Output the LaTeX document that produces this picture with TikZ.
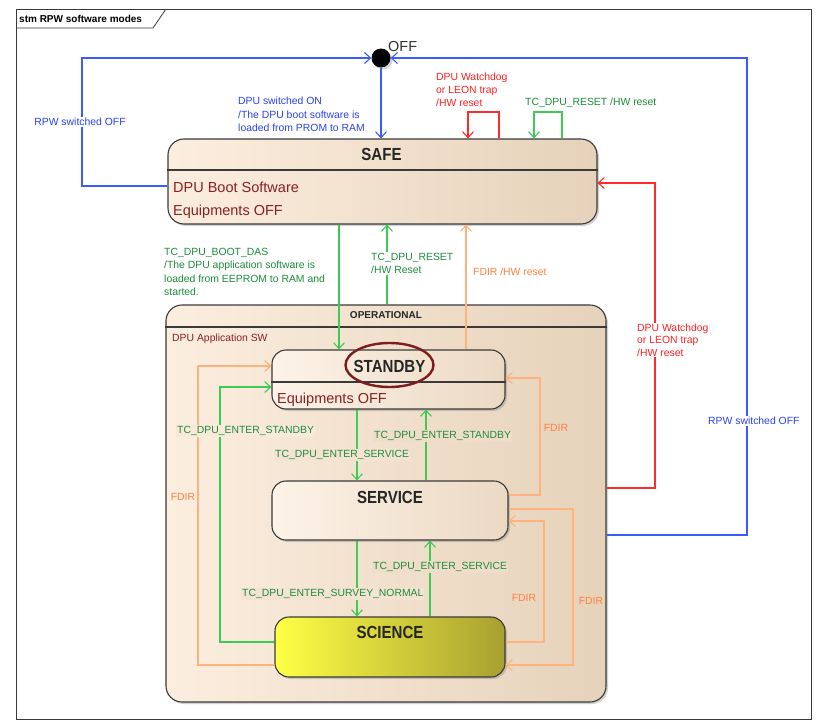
\documentclass[tikz,border=0pt]{standalone}
\usepackage{fontspec}
\setmainfont{Liberation Sans}
\newfontfamily\titlefont[FakeStretch=0.86]{Liberation Sans}
\usetikzlibrary{arrows.meta,shadows,shapes.geometric}

\definecolor{bl}{HTML}{3B5BFF}
\definecolor{bltxt}{HTML}{2A42F2}
\definecolor{gr}{HTML}{3CCB55}
\definecolor{grtxt}{HTML}{1C8C3C}
\definecolor{rd}{HTML}{FF2A2A}
\definecolor{rdtxt}{HTML}{FF2020}
\definecolor{orl}{HTML}{FFB27D}
\definecolor{ortxt}{HTML}{FF8040}
\definecolor{maroon}{HTML}{8B2020}
\definecolor{boxL}{HTML}{FCEEDF}
\definecolor{boxR}{HTML}{E6D2BA}
\definecolor{stL}{HTML}{FDF3E8}
\definecolor{stR}{HTML}{EBD9C3}
\definecolor{yelL}{HTML}{FFFF45}
\definecolor{yelM}{HTML}{F7F03A}
\definecolor{yelR}{HTML}{A8A030}
\definecolor{edge}{HTML}{3A3A3A}

\begin{document}
\begin{tikzpicture}[x=1pt,y=-1pt,
  every node/.style={inner sep=1pt},
  lbl/.style={font=\fontsize{10.4}{13.5}\selectfont, align=left},
  shd/.style={drop shadow={shadow xshift=2pt,shadow yshift=-2pt,opacity=0.35}},
  bigbox/.style={draw=edge, line width=1.1pt, rounded corners=16pt, left color=boxL, right color=boxR, shd},
  statebox/.style={draw=edge, line width=1.1pt, rounded corners=14pt, left color=stL, right color=stR, shd},
  scibox/.style={draw=edge, line width=1.1pt, rounded corners=14pt, left color=yelL, middle color=yelM, right color=yelR, shd},
  tr/.style={line width=1.1pt, -{Straight Barb[length=6pt,width=11pt]}},
  ln/.style={line width=1.1pt},
  ttl/.style={font=\titlefont\bfseries\fontsize{17.5}{20}\selectfont, text=black!85},
  big/.style={font=\fontsize{14.5}{17}\selectfont, text=maroon}
]
\useasboundingbox (0,0) rectangle (817,728);
\fill[white] (0,0) rectangle (817,728);

% frame
\draw[edge, line width=1pt] (16,9) rectangle (811,719);
\draw[edge, line width=0.8pt] (16,28) -- (153,28) -- (166,9);
\node[anchor=west, font=\bfseries\fontsize{10}{12}\selectfont] (frametitle) at (18,19) {stm RPW software modes};

% boxes
\node[bigbox, minimum width=440pt, minimum height=397pt] (OPER) at (386,503.5) {};
\draw[edge, line width=1.1pt] (OPER.west |- 0,327) -- (OPER.east |- 0,327);
\node[bigbox, minimum width=429pt, minimum height=85pt] (SAFE) at (382.5,181.5) {};
\draw[edge, line width=1.1pt] (SAFE.west |- 0,170) -- (SAFE.east |- 0,170);
\node[statebox, minimum width=233pt, minimum height=59pt] (STBY) at (388.5,379.5) {};
\draw[edge, line width=1.1pt] (STBY.west |- 0,382) -- (STBY.east |- 0,382);
\node[statebox, minimum width=236pt, minimum height=59pt] (SERV) at (390,510.5) {};
\node[scibox, minimum width=230pt, minimum height=60pt] (SCI) at (390,647) {};

% initial state
\node[circle, fill=black, minimum size=19pt, inner sep=0pt, shd] (init) at (381,58) {};
\node[anchor=west, font=\fontsize{14.5}{17}\selectfont, text=black!80] (offlbl) at (387,47) {OFF};

% box texts
\node[ttl] (safet) at (381.5,154) {SAFE};
\node[big, anchor=base west] (safe1) at (172,192) {DPU Boot Software};
\node[big, anchor=base west] (safe2) at (172,215) {Equipments OFF};
\node[font=\bfseries\fontsize{10}{12}\selectfont, text=black!85] (opt) at (386,315) {OPERATIONAL};
\node[lbl, text=maroon, anchor=west] (opsw) at (171,339) {DPU Application SW};
\node[ttl] (stbyt) at (389.5,366) {STANDBY};
\node[big, anchor=base west] (stby1) at (276,403) {Equipments OFF};
\node[ttl] (servt) at (390,497) {SERVICE};
\node[ttl] (scit) at (390,632) {SCIENCE};

% connectors: blue
\draw[tr, bl] (SAFE.west |- 0,186) -| (82,58) -- (init);
\draw[tr, bl] (OPER.east |- 0,535) -| (747,58) -- (init);
\draw[tr, bl] (init) -- (SAFE.north -| init);

% self loops on SAFE
\draw[tr, rd] (SAFE.north -| 499,0) |- (468,112) -- (SAFE.north -| 468,0);
\draw[tr, gr] (SAFE.north -| 562,0) |- (534,112) -- (SAFE.north -| 534,0);

% red from OPERATIONAL to SAFE
\draw[tr, rd] (OPER.east |- 0,488) -| (655,183) -- (SAFE.east |- 0,183);

% SAFE <-> OPERATIONAL
\draw[tr, gr] (SAFE.south -| 339,0) -- (STBY.north -| 339,0);
\draw[tr, gr] (OPER.north -| 387,0) -- (SAFE.south -| 387,0);
\draw[tr, orl] (STBY.north -| 466,0) -- (SAFE.south -| 466,0);

% inner transitions
\draw[tr, gr] (STBY.south -| 357,0) -- (SERV.north -| 357,0);
\draw[tr, gr] (SERV.north -| 426,0) -- (STBY.south -| 426,0);
\draw[tr, gr] (SERV.south -| 357,0) -- (SCI.north -| 357,0);
\draw[tr, gr] (SCI.north -| 430,0) -- (SERV.south -| 430,0);
\draw[tr, gr] (SCI.west |- 0,642) -| (220,387) -- (STBY.west |- 0,387);
\draw[tr, orl] (SCI.west |- 0,665) -| (198,366) -- (STBY.west |- 0,366);
\draw[tr, orl] (SERV.east |- 0,495) -| (540,378) -- (STBY.east |- 0,378);
\draw[tr, orl] (SCI.east |- 0,642) -| (544,521) -- (SERV.east |- 0,521);
\draw[tr, orl] (SERV.east |- 0,509) -| (573,665) -- (SCI.east |- 0,665);

% STANDBY highlight ellipse
\draw[maroon!90!black, line width=2.4pt] (389.5,365) ellipse [x radius=44pt, y radius=22pt];

% labels
\node[lbl, text=bltxt, fill=white] (l1) at (80,122) {RPW switched OFF};
\node[lbl, text=bltxt, anchor=north west] (l2) at (237,96) {DPU switched ON\\/The DPU boot software is\\loaded from PROM to RAM};
\node[lbl, text=rdtxt, anchor=north west, font=\fontsize{10.4}{13}\selectfont] (l3) at (435,72) {DPU Watchdog\\or LEON trap\\/HW reset};
\node[lbl, text=grtxt, anchor=west] (l4) at (524,103) {TC\_DPU\_RESET /HW reset};
\node[lbl, text=grtxt, anchor=north west, font=\fontsize{10.4}{13.4}\selectfont] (l5) at (163,247) {TC\_DPU\_BOOT\_DAS\\/The DPU application software is\\loaded from EEPROM to RAM and\\started.};
\node[lbl, text=grtxt, fill=white, anchor=north west] (l6) at (370,252) {TC\_DPU\_RESET\\/HW Reset};
\node[lbl, text=ortxt, anchor=west] (l7) at (472,272) {FDIR /HW reset};
\node[lbl, text=rdtxt, fill=white, anchor=north west, font=\fontsize{10.4}{12.2}\selectfont] (l8) at (636,323) {DPU Watchdog\\or LEON trap\\/HW reset};
\node[lbl, text=bltxt, fill=white, anchor=west] (l9) at (707,421) {RPW switched OFF};

\node[lbl, text=grtxt, fill=boxL!82!boxR, anchor=west] (l10) at (176,431) {TC\_DPU\_ENTER\_STANDBY};
\node[lbl, text=grtxt, fill=boxL!40!boxR, anchor=west] (l11) at (373,436) {TC\_DPU\_ENTER\_STANDBY};
\node[lbl, text=grtxt, fill=boxL!62!boxR, anchor=west] (l12) at (274,455) {TC\_DPU\_ENTER\_SERVICE};
\node[lbl, text=grtxt, fill=boxL!40!boxR, anchor=west] (l13) at (372,567) {TC\_DPU\_ENTER\_SERVICE};
\node[lbl, text=grtxt, fill=boxL!62!boxR, anchor=west] (l14) at (241,594) {TC\_DPU\_ENTER\_SURVEY\_NORMAL};
\node[lbl, text=ortxt, fill=boxL!96!boxR] (l15) at (183,497) {FDIR};
\node[lbl, text=ortxt, fill=boxL!12!boxR] (l16) at (556,428) {FDIR};
\node[lbl, text=ortxt, fill=boxL!20!boxR] (l17) at (524,598) {FDIR};
\node[lbl, text=ortxt, fill=boxL!5!boxR] (l18) at (591,601) {FDIR};
\end{tikzpicture}
\end{document}
